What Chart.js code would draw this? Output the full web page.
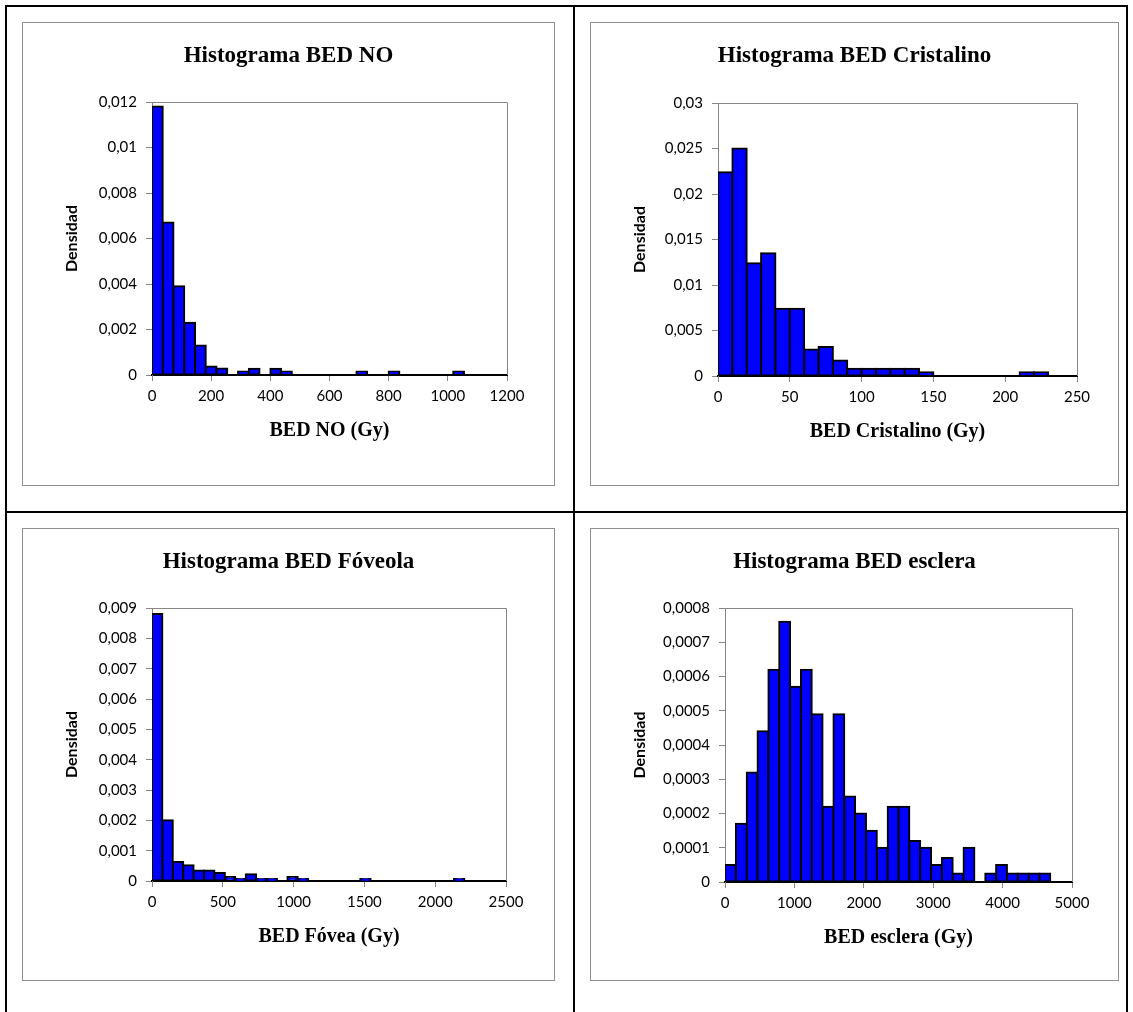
<!DOCTYPE html>
<html lang="es">
<head>
<meta charset="utf-8">
<title>Histogramas BED</title>
<script src="https://cdn.jsdelivr.net/npm/chart.js@4.4.1/dist/chart.umd.min.js"></script>
<style>
  html, body { margin: 0; padding: 0; background: #fff; overflow: hidden; }
  #page { position: relative; width: 1133px; height: 1012px; }
  .rule { position: absolute; background: #000; }
  .box { position: absolute; border: 1px solid #8f8f8f; box-sizing: border-box; background: #fff; }
  .box canvas { position: absolute; left: 0; top: 0; }
</style>
</head>
<body>
<div id="page">
  <!-- table rules -->
  <div class="rule" style="left:5px;top:5px;width:1123px;height:2px"></div>
  <div class="rule" style="left:5px;top:5px;width:2px;height:1010px"></div>
  <div class="rule" style="left:1126px;top:5px;width:2px;height:1010px"></div>
  <div class="rule" style="left:573px;top:5px;width:2px;height:1010px"></div>
  <div class="rule" style="left:5px;top:511px;width:1123px;height:2px"></div>

  <div class="box" style="left:22px;top:22px;width:533px;height:464px"><canvas id="cNO"></canvas></div>
  <div class="box" style="left:590px;top:22px;width:529px;height:464px"><canvas id="cCri"></canvas></div>
  <div class="box" style="left:22px;top:528px;width:533px;height:453px"><canvas id="cFov"></canvas></div>
  <div class="box" style="left:590px;top:528px;width:529px;height:453px"><canvas id="cEsc"></canvas></div>
</div>

<script>
// ---- BED NO (nervio óptico) ----
const binWidthNO = 1200 / 33;
const densityNO = [0.0118, 0.0067, 0.0039, 0.0023, 0.0013, 0.00037, 0.00029, 0, 0.00015, 0.00028,
                   0, 0.00028, 0.00015, 0, 0, 0, 0, 0, 0, 0.00015,
                   0, 0, 0.00015, 0, 0, 0, 0, 0, 0.00015, 0,
                   0, 0, 0];
const xTicksNO = ['0', '200', '400', '600', '800', '1000', '1200'];
const yTicksNO = ['0', '0,002', '0,004', '0,006', '0,008', '0,01', '0,012'];

// ---- BED Cristalino ----
const binWidthCri = 10;
const densityCri = [0.0224, 0.025, 0.0124, 0.0135, 0.0074, 0.0074, 0.0029, 0.0032, 0.0017, 0.0008,
                    0.0008, 0.0008, 0.0008, 0.0008, 0.0004, 0, 0, 0, 0, 0,
                    0, 0.0004, 0.0004, 0, 0];
const xTicksCri = ['0', '50', '100', '150', '200', '250'];
const yTicksCri = ['0', '0,005', '0,01', '0,015', '0,02', '0,025', '0,03'];

// ---- BED Fóvea ----
const binWidthFov = 2500 / 34;
const densityFov = [0.0088, 0.002, 0.00063, 0.00052, 0.00035, 0.00035, 0.00026, 0.00013, 0.00007, 0.00022,
                    0.00007, 0.00007, 0, 0.00013, 0.00007, 0, 0, 0, 0, 0,
                    0.00007, 0, 0, 0, 0, 0, 0, 0, 0, 0.00007,
                    0, 0, 0, 0];
const xTicksFov = ['0', '500', '1000', '1500', '2000', '2500'];
const yTicksFov = ['0', '0,001', '0,002', '0,003', '0,004', '0,005', '0,006', '0,007', '0,008', '0,009'];

// ---- BED esclera ----
const binWidthEsc = 5000 / 32;
const densityEsc = [0.00005, 0.00017, 0.00032, 0.00044, 0.00062, 0.00076, 0.00057, 0.00062, 0.00049, 0.00022,
                    0.00049, 0.00025, 0.0002, 0.00015, 0.0001, 0.00022, 0.00022, 0.00012, 0.0001, 0.00005,
                    0.00007, 0.000025, 0.0001, 0, 0.000025, 0.00005, 0.000025, 0.000025, 0.000025, 0.000025,
                    0, 0];
const xTicksEsc = ['0', '1000', '2000', '3000', '4000', '5000'];
const yTicksEsc = ['0', '0,0001', '0,0002', '0,0003', '0,0004', '0,0005', '0,0006', '0,0007', '0,0008'];

Chart.defaults.color = '#000';
Chart.defaults.font.family = 'Lato, "Open Sans", sans-serif';

const GREY = '#868686';
const SERIF = '"Liberation Serif", "DejaVu Serif", serif';

// grey frame on the top and right sides of the plot area
const plotFrame = {
  id: 'plotFrame',
  beforeDatasetsDraw(chart) {
    const { ctx, chartArea: a } = chart;
    ctx.save();
    ctx.strokeStyle = GREY;
    ctx.lineWidth = 1;
    ctx.beginPath();
    ctx.moveTo(Math.round(a.left), Math.round(a.top) + 0.5);
    ctx.lineTo(Math.round(a.right) + 0.5, Math.round(a.top) + 0.5);
    ctx.lineTo(Math.round(a.right) + 0.5, Math.round(a.bottom));
    ctx.stroke();
    ctx.restore();
  }
};

const toNum = s => parseFloat(s.replace(',', '.'));

function buildHistogram(canvasId, g) {
  const cv = document.getElementById(canvasId);
  const box = cv.parentElement;
  const ox = box.offsetLeft + 1, oy = box.offsetTop + 1;
  const cw = box.offsetWidth - 2, ch = box.offsetHeight - 2;
  cv.width = cw; cv.height = ch;

  const titleSize = 23, titleLH = titleSize * 1.2;
  const axisTitleSize = 20, axisTitleLH = axisTitleSize * 1.2;
  const tickSize = 15, tickLH = tickSize * 1.2;
  const yTitleSize = 16, yTitleLH = yTitleSize * 1.2;
  const tickLen = 6;

  const points = g.values.map((v, i) => ({ x: (i + 0.5) * g.binWidth, y: v === 0 ? null : v }));

  return new Chart(cv, {
    type: 'bar',
    data: {
      datasets: [{
        data: points,
        backgroundColor: '#0000FF',
        borderColor: '#000000',
        borderWidth: 2,
        borderSkipped: false,
        inflateAmount: 1,
        barPercentage: 1,
        categoryPercentage: 1
      }]
    },
    options: {
      responsive: false,
      animation: false,
      events: [],
      layout: { padding: 0 },
      plugins: {
        legend: { display: false },
        tooltip: { enabled: false },
        title: {
          display: true,
          text: g.title,
          color: '#000',
          font: { family: SERIF, size: titleSize, weight: 'bold', lineHeight: 1.2 },
          padding: { top: g.titleY - oy - titleLH / 2, bottom: g.plotTop - g.titleY - titleLH / 2 }
        }
      },
      scales: {
        x: {
          type: 'linear',
          position: 'bottom',
          offset: false,
          min: toNum(g.xTicks[0]),
          max: toNum(g.xTicks[g.xTicks.length - 1]),
          afterBuildTicks: s => { s.ticks = g.xTicks.map(t => ({ value: toNum(t) })); },
          afterFit: s => { s.height = oy + ch - g.plotBottom; },
          grid: { display: true, drawOnChartArea: false, drawTicks: true, tickLength: tickLen, color: GREY, offset: false },
          border: { display: true, color: '#000', width: 2 },
          ticks: {
            autoSkip: false, maxRotation: 0,
            padding: g.tickY - g.plotBottom - tickLen - tickLH / 2,
            font: { size: tickSize, lineHeight: 1.2 },
            callback: (v, i) => g.xTicks[i]
          },
          title: {
            display: true,
            text: g.xTitle,
            color: '#000',
            font: { family: SERIF, size: axisTitleSize, weight: 'bold', lineHeight: 1.2 },
            padding: { top: 0, bottom: oy + ch - g.xTitleY - axisTitleLH / 2 }
          }
        },
        y: {
          type: 'linear',
          position: 'left',
          min: 0,
          max: toNum(g.yTicks[g.yTicks.length - 1]),
          afterBuildTicks: s => { s.ticks = g.yTicks.map(t => ({ value: toNum(t) })); },
          afterFit: s => { s.width = g.plotLeft - ox; },
          grid: { display: true, drawOnChartArea: false, drawTicks: true, tickLength: tickLen, color: GREY },
          border: { display: true, color: GREY, width: 1 },
          ticks: {
            padding: 9,
            font: { size: tickSize, lineHeight: 1.2 },
            callback: (v, i) => g.yTicks[i]
          },
          title: {
            display: true,
            text: 'Densidad',
            color: '#000',
            font: { size: yTitleSize, weight: 'bold', lineHeight: 1.2 },
            padding: { top: g.yTitleX - ox - yTitleLH / 2, bottom: 0 }
          }
        },
        yRight: {
          type: 'linear',
          position: 'right',
          display: true,
          grid: { display: false, drawTicks: false },
          border: { display: false },
          ticks: { display: false },
          afterFit: s => { s.width = ox + cw - g.plotRight; }
        }
      }
    },
    plugins: [plotFrame]
  });
}

buildHistogram('cNO', {
  title: 'Histograma BED NO', xTitle: 'BED NO (Gy)',
  values: densityNO, binWidth: binWidthNO, xTicks: xTicksNO, yTicks: yTicksNO,
  plotLeft: 152, plotTop: 102, plotRight: 507, plotBottom: 375,
  titleY: 56, tickY: 396, xTitleY: 431, yTitleX: 72
});
buildHistogram('cCri', {
  title: 'Histograma BED Cristalino', xTitle: 'BED Cristalino (Gy)',
  values: densityCri, binWidth: binWidthCri, xTicks: xTicksCri, yTicks: yTicksCri,
  plotLeft: 718, plotTop: 103, plotRight: 1077, plotBottom: 376,
  titleY: 56, tickY: 397, xTitleY: 432, yTitleX: 640
});
buildHistogram('cFov', {
  title: 'Histograma BED Fóveola', xTitle: 'BED Fóvea (Gy)',
  values: densityFov, binWidth: binWidthFov, xTicks: xTicksFov, yTicks: yTicksFov,
  plotLeft: 152, plotTop: 608, plotRight: 506, plotBottom: 881,
  titleY: 562, tickY: 902, xTitleY: 937, yTitleX: 72
});
buildHistogram('cEsc', {
  title: 'Histograma BED esclera', xTitle: 'BED esclera (Gy)',
  values: densityEsc, binWidth: binWidthEsc, xTicks: xTicksEsc, yTicks: yTicksEsc,
  plotLeft: 725, plotTop: 608, plotRight: 1072, plotBottom: 882,
  titleY: 562, tickY: 903, xTitleY: 938, yTitleX: 640
});
</script>
</body>
</html>
